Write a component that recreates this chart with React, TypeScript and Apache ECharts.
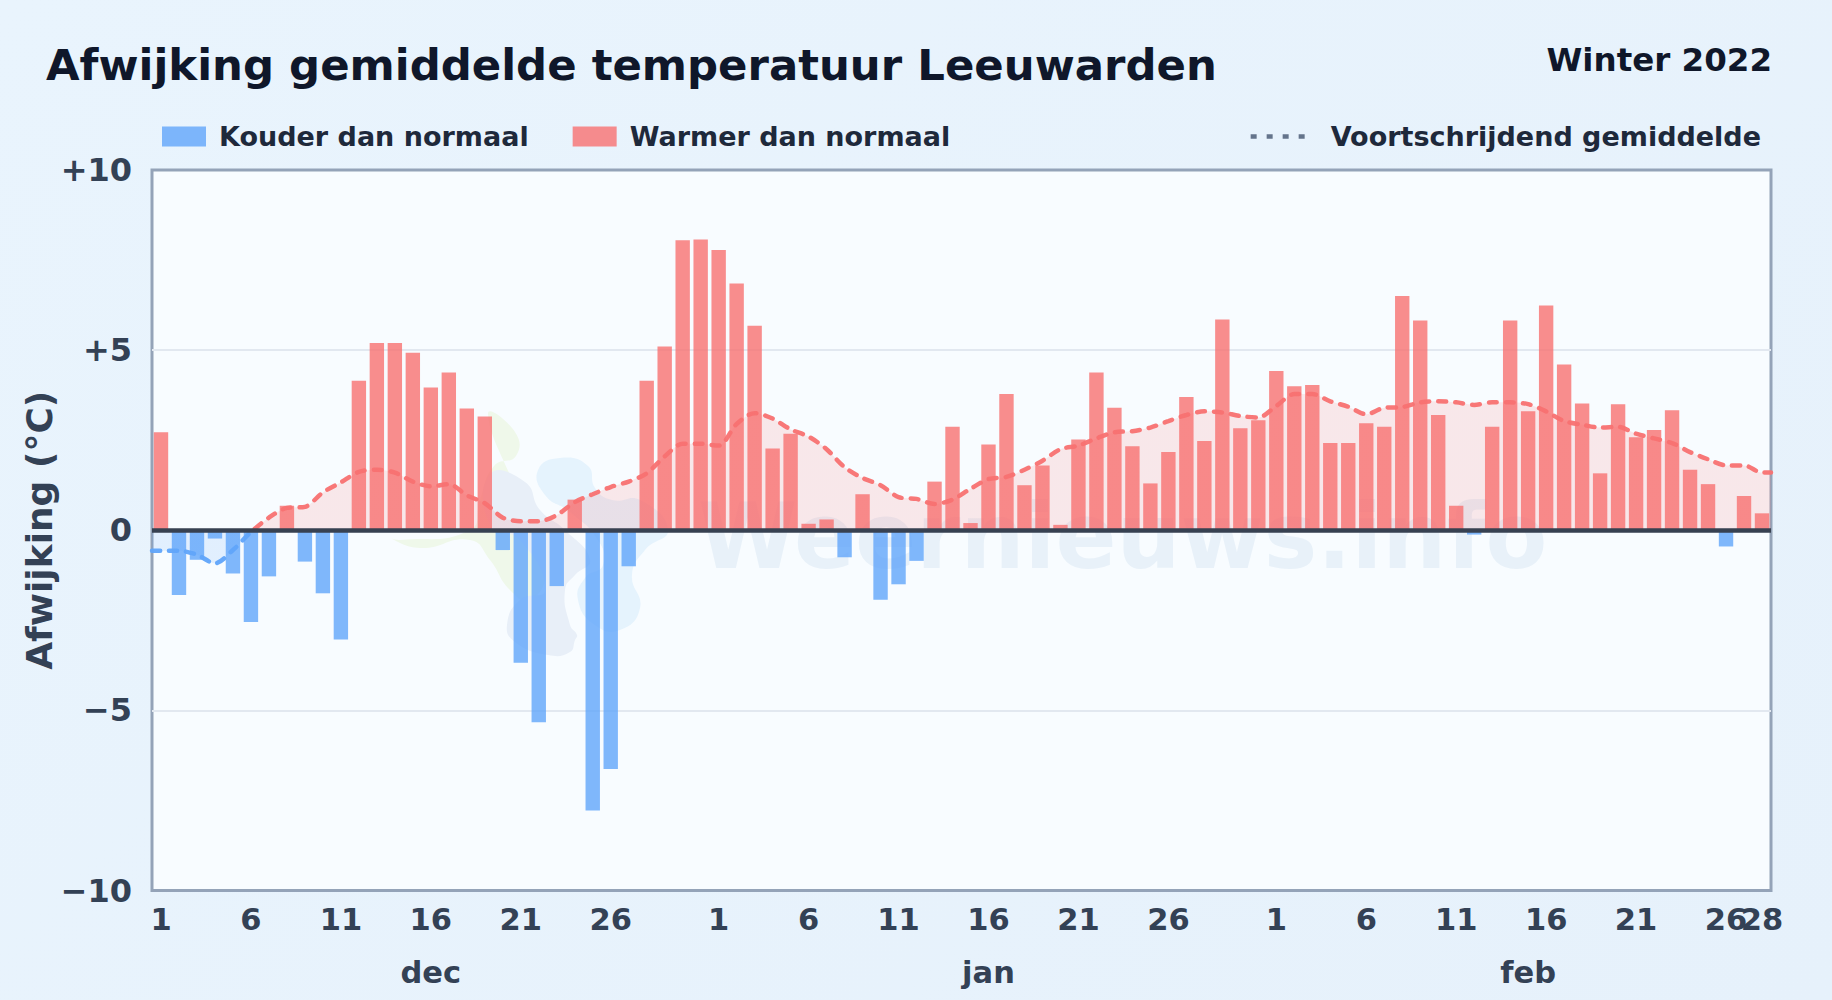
import React, { useEffect, useRef } from "react";
import * as echarts from "echarts";

const monthNames = ["dec", "jan", "feb"];
const monthLengths = [31, 31, 28];
const monthCenterDays = [16, 16, 15];
const yTicks: Record<string, string> = { "10": "+10", "5": "+5", "0": "0", "-5": "−5", "-10": "−10" };

const decValues = [2.72, -1.8, -0.82, -0.23, -1.2, -2.55, -1.28, 0.68, -0.87, -1.75, -3.03, 4.15, 5.2, 5.2, 4.93, 3.96, 4.38, 3.38, 3.16, -0.55, -3.68, -5.33, -1.55, 0.85, -7.78, -6.63, -1.0, 4.15, 5.1, 8.05, 8.07];
const janValues = [7.78, 6.85, 5.68, 2.27, 2.68, 0.18, 0.3, -0.75, 1.0, -1.93, -1.5, -0.85, 1.35, 2.87, 0.2, 2.38, 3.78, 1.25, 1.8, 0.15, 2.52, 4.38, 3.4, 2.33, 1.3, 2.17, 3.7, 2.48, 5.85, 2.83, 3.05];
const febValues = [4.42, 4.0, 4.03, 2.42, 2.42, 2.97, 2.87, 6.5, 5.82, 3.2, 0.68, -0.12, 2.87, 5.82, 3.3, 6.24, 4.6, 3.52, 1.58, 3.5, 2.58, 2.78, 3.33, 1.68, 1.28, -0.45, 0.95, 0.47];

const decMean = [-0.57, -0.57, -0.68, -0.92, -0.55, -0.05, 0.35, 0.62, 0.65, 1.05, 1.33, 1.62, 1.68, 1.6, 1.35, 1.22, 1.28, 0.97, 0.75, 0.35, 0.25, 0.25, 0.42, 0.78, 1.0, 1.2, 1.35, 1.58, 2.05, 2.4, 2.4];
const janMean = [2.35, 2.95, 3.25, 3.1, 2.8, 2.6, 2.25, 1.75, 1.45, 1.25, 0.92, 0.87, 0.73, 0.85, 1.15, 1.42, 1.48, 1.68, 1.93, 2.25, 2.35, 2.55, 2.72, 2.75, 2.85, 3.03, 3.2, 3.3, 3.27, 3.17, 3.13];
const febMean = [3.45, 3.78, 3.78, 3.58, 3.43, 3.22, 3.4, 3.42, 3.55, 3.58, 3.55, 3.48, 3.55, 3.55, 3.5, 3.3, 3.03, 2.93, 2.85, 2.87, 2.68, 2.55, 2.42, 2.17, 1.97, 1.8, 1.8, 1.6];

const FONT = "DejaVu Sans";
const values = [...decValues, ...janValues, ...febValues];
const means = [...decMean, ...janMean, ...febMean];
const days = monthLengths.flatMap((n) => Array.from({ length: n }, (_, i) => String(i + 1)));
const monthAxis = monthLengths.flatMap((n, m) =>
  Array.from({ length: n }, (_, i) => (i + 1 === monthCenterDays[m] ? monthNames[m] : ""))
);
const meanPoints: number[][] = [
  [0, means[0]],
  ...means.map((v, i) => [i + 0.5, v]),
  [values.length, means[means.length - 1]],
];

const blobs = [
  { fill: "#eff8ea", points: [[488, 414], [515, 432], [516, 456], [494, 466], [480, 500], [470, 530], [400, 540], [388, 537], [420, 548], [470, 540], [490, 560], [510, 590], [530, 600], [545, 570], [520, 500]] },
  { fill: "#e8eff8", points: [[490, 474], [525, 482], [540, 510], [565, 530], [590, 560], [575, 575], [565, 590], [570, 625], [577, 635], [575, 640], [570, 652], [548, 655], [515, 642], [507, 625], [520, 600], [545, 590], [520, 540], [490, 525]] },
  { fill: "#e5f3fd", points: [[538, 470], [560, 458], [588, 466], [595, 488], [612, 500], [640, 500], [668, 530], [645, 550], [632, 575], [640, 608], [620, 630], [595, 625], [578, 600], [585, 578], [603, 565], [598, 540], [570, 512], [545, 495]] },
];

export default function App() {
  const ref = useRef<HTMLDivElement>(null);
  useEffect(() => {
    if (!ref.current) return;
    const chart = echarts.init(ref.current, undefined, { renderer: "svg" });
    const bold = { fontFamily: FONT, fontWeight: "bold" as const };
    chart.setOption({
      animation: false,
      backgroundColor: "transparent",
      title: [
        { text: "Afwijking gemiddelde temperatuur Leeuwarden", left: 41, top: 38, textStyle: { ...bold, fontSize: 43.4, color: "#0f172a" } },
        { text: "Winter 2022", right: 55, top: 38, textStyle: { ...bold, fontSize: 32.5, color: "#0f172a" } },
      ],
      legend: [
        {
          data: [
            { name: "Kouder dan normaal", icon: "rect" },
            { name: "Warmer dan normaal", icon: "rect" },
          ],
          left: 157, top: 118, itemWidth: 44, itemHeight: 20, itemGap: 44, selectedMode: false,
          textStyle: { ...bold, fontSize: 27, color: "#1e293b", padding: [0, 0, 0, 8] },
        },
        {
          data: [{ name: "Voortschrijdend gemiddelde", itemStyle: { color: "#64748b", opacity: 0 }, lineStyle: { color: "#64748b", type: [6, 10], width: 4.5, opacity: 1, cap: "butt" } }],
          right: 66, top: 118, itemWidth: 56, itemHeight: 20, selectedMode: false,
          textStyle: { ...bold, fontSize: 27, color: "#1e293b", padding: [0, 0, 0, 19] },
        },
      ],
      grid: {
        left: 152, top: 170, width: 1619, height: 720.5, show: true, outerBoundsMode: "none",
        backgroundColor: "#f8fcff", borderColor: "#94a3b8", borderWidth: 3,
      },
      xAxis: [
        {
          type: "category", data: days, position: "bottom",
          axisLine: { show: false }, axisTick: { show: false }, splitLine: { show: false },
          axisLabel: {
            ...bold, fontSize: 30.5, color: "#334155", margin: 13, hideOverlap: false, interval: 0,
            formatter: (v: string, i: number) => (i === days.length - 1 || (Number(v) % 5 === 1 && Number(v) < 31) ? v : ""),
          },
        },
        {
          type: "category", data: monthAxis, position: "bottom", offset: 53,
          axisLine: { show: false }, axisTick: { show: false }, splitLine: { show: false },
          axisLabel: { ...bold, fontSize: 30.5, color: "#334155", margin: 13, interval: 0 },
        },
        { type: "value", min: 0, max: values.length, show: false, splitLine: { show: false } },
      ],
      yAxis: {
        type: "value", min: -10, max: 10, interval: 5,
        name: "Afwijking (°C)", nameLocation: "middle", nameRotate: 90, nameGap: 94.5, nameMoveOverlap: false,
        nameTextStyle: { ...bold, fontSize: 36, color: "#334155" },
        axisLine: { show: false }, axisTick: { show: false },
        axisLabel: { ...bold, fontSize: 32, color: "#334155", margin: 20, formatter: (v: number) => yTicks[String(v)] ?? "" },
        splitLine: { showMinLine: false, showMaxLine: false, lineStyle: { color: "#e2e8f0", width: 2 } },
      },
      visualMap: {
        show: false, type: "piecewise", seriesIndex: 2, dimension: 1,
        pieces: [
          { gte: -20, lt: 0, color: "#60a5fa" },
          { gte: 0, lte: 20, color: "#f87171" },
        ],
      },
      series: [
        {
          name: "Kouder dan normaal", type: "bar", xAxisIndex: 0, barWidth: "80%", barGap: "-100%",
          itemStyle: { color: "rgba(96,165,250,0.8)" },
          data: values.map((v) => (v < 0 ? v : null)),
        },
        {
          name: "Warmer dan normaal", type: "bar", xAxisIndex: 0, barWidth: "80%", barGap: "-100%",
          itemStyle: { color: "rgba(248,113,113,0.8)" },
          data: values.map((v) => (v >= 0 ? v : null)),
          markLine: {
            silent: true, symbol: "none", label: { show: false },
            lineStyle: { color: "#374151", width: 4.5, type: "solid" },
            data: [{ yAxis: 0 }],
          },
        },
        {
          name: "Voortschrijdend gemiddelde", type: "line", xAxisIndex: 2, smooth: 0.3, symbol: "none", z: 3,
          lineStyle: { width: 4.5, type: [8, 9], cap: "round", opacity: 0.95 },
          areaStyle: { opacity: 0.15 },
          data: meanPoints,
        },
      ],
      graphic: {
        elements: [
          ...blobs.map((b) => ({
            type: "polygon", z: 1, silent: true,
            shape: { points: b.points, smooth: 0.5 },
            style: { fill: b.fill },
          })),
          {
            type: "text", z: 1, silent: true, x: 698, y: 491,
            style: { text: "Weernieuws.info", font: `bold 90px "${FONT}"`, fill: "#e8f1f9" },
          },
        ],
      },
    });
    return () => chart.dispose();
  }, []);
  return (
    <div
      ref={ref}
      style={{ position: "fixed", left: 0, top: 0, width: 1832, height: 1000, background: "linear-gradient(135deg,#e9f4fd,#e6f1fb)" }}
    />
  );
}
